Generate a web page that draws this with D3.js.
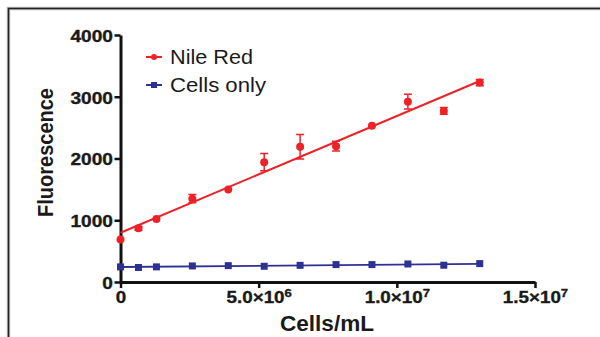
<!DOCTYPE html>
<html><head><meta charset="utf-8">
<script src="https://cdn.jsdelivr.net/npm/d3@7"></script>
<style>body{margin:0;background:#fff} svg{display:block} text{font-family:"Liberation Sans",Arial,sans-serif}</style>
</head><body><svg id="c" width="600" height="337"></svg>
<script>
const cellDensity = [0, 0.65e6, 1.3e6, 2.6e6, 3.9e6, 5.2e6, 6.5e6, 7.8e6, 9.1e6, 10.4e6, 11.7e6, 13.0e6];
const nileRed = [690, 870, 1020, 1350, 1500, 1940, 2190, 2200, 2530, 2920, 2770, 3230];
const nileRedErr = [0, 30, 0, 65, 0, 140, 200, 80, 0, 120, 55, 50];
const cellsOnly = [245, 235, 245, 260, 265, 255, 270, 282, 282, 292, 272, 298];
const fitX = [0, 13.0e6];
const nileRedFit = [798, 3255];
const cellsOnlyFit = [243, 295];
const yTicks = [0, 1000, 2000, 3000, 4000];
const xTicks = [0, 5e6, 1e7, 1.5e7];
const xTickMantissa = ["0", "5.0×10", "1.0×10", "1.5×10"];
const xTickExponent = ["", "6", "7", "7"];
const seriesNames = ["Nile Red", "Cells only"];
const seriesColors = ["#ee2127", "#2e3192"];

const svg = d3.select("#c");
const x = d3.scaleLinear().domain([0, 1.5e7]).range([120.5, 535]);
const y = d3.scaleLinear().domain([0, 4000]).range([282, 35]);

// frame
svg.append("path").attr("d", "M8.5,337 V8.5 H600").attr("fill", "none")
  .attr("stroke", "#bbb").attr("stroke-width", 3.5);
svg.append("path").attr("d", "M8.5,337 V8.5 H600").attr("fill", "none")
  .attr("stroke", "#222").attr("stroke-width", 1.5);

// axes
const yAxis = svg.append("g").attr("transform", "translate(120.5,0)")
  .call(d3.axisLeft(y).tickValues(yTicks).tickSize(6).tickSizeOuter(0).tickFormat(d3.format("d")));
const xAxis = svg.append("g").attr("transform", "translate(0,282)")
  .call(d3.axisBottom(x).tickValues(xTicks).tickSize(6).tickSizeOuter(0));
[yAxis, xAxis].forEach(a => {
  a.select(".domain").attr("stroke", "#111").attr("stroke-width", 3);
  a.selectAll(".tick line").attr("stroke", "#111").attr("stroke-width", 2.5);
});
yAxis.selectAll(".tick text")
  .attr("x", null).attr("dy", null)
  .attr("transform", "translate(-7.5,6.3) scale(1.16,1)")
  .attr("font-size", 16.5).attr("font-weight", "bold").attr("fill", "#1a1a1a")
  .attr("stroke", "#1a1a1a").attr("stroke-width", 0.35)
  .attr("text-anchor", "end");
xAxis.selectAll(".tick text").each(function(d, i) {
  const t = d3.select(this);
  t.text(null).attr("y", null).attr("dy", null)
    .attr("transform", "translate(0,21) scale(1.14,1)")
    .attr("font-size", 16.5).attr("font-weight", "bold").attr("fill", "#1a1a1a")
    .attr("stroke", "#1a1a1a").attr("stroke-width", 0.35)
    .attr("text-anchor", "middle");
  t.append("tspan").text(xTickMantissa[i]);
  if (xTickExponent[i]) t.append("tspan").attr("dy", "-0.5em").attr("font-size", 11.5).text(xTickExponent[i]);
});

// axis titles
svg.append("text").attr("transform", "translate(53,152.5) rotate(-90)")
  .attr("text-anchor", "middle").attr("font-size", 22).attr("font-weight", "bold")
  .attr("fill", "#1a1a1a").attr("textLength", 129).attr("lengthAdjust", "spacingAndGlyphs")
  .text("Fluorescence");
svg.append("text").attr("x", 327).attr("y", 331)
  .attr("text-anchor", "middle").attr("font-size", 22).attr("font-weight", "bold")
  .attr("fill", "#1a1a1a").attr("textLength", 94).attr("lengthAdjust", "spacingAndGlyphs")
  .text("Cells/mL");

// fit lines
const line = d3.line().x(d => x(d[0])).y(d => y(d[1]));
svg.append("path").datum(fitX.map((v, i) => [v, cellsOnlyFit[i]]))
  .attr("d", line).attr("fill", "none").attr("stroke", seriesColors[1]).attr("stroke-width", 1.8);
svg.append("path").datum(fitX.map((v, i) => [v, nileRedFit[i]]))
  .attr("d", line).attr("fill", "none").attr("stroke", seriesColors[0]).attr("stroke-width", 2);

// error bars
const eb = svg.append("g").attr("stroke", seriesColors[0]).attr("stroke-width", 1.5).attr("fill", "none");
cellDensity.forEach((v, i) => {
  if (!nileRedErr[i]) return;
  const cx = x(v), y1 = y(nileRed[i] + nileRedErr[i]), y2 = y(nileRed[i] - nileRedErr[i]);
  eb.append("path").attr("d", `M${cx},${y1}V${y2}M${cx-4},${y1}H${cx+4}M${cx-4},${y2}H${cx+4}`);
});

// markers
svg.append("g").selectAll("rect").data(cellDensity).join("rect")
  .attr("x", d => x(d) - 3.5).attr("y", (d, i) => y(cellsOnly[i]) - 3.5)
  .attr("width", 7).attr("height", 7).attr("fill", seriesColors[1]);
svg.append("g").selectAll("circle").data(cellDensity).join("circle")
  .attr("cx", d => x(d)).attr("cy", (d, i) => y(nileRed[i])).attr("r", 4)
  .attr("fill", seriesColors[0]);

// legend
const legY = [57, 85], legLen = [83, 96];
seriesNames.forEach((name, i) => {
  const g = svg.append("g");
  g.append("line").attr("x1", 146).attr("x2", 162).attr("y1", legY[i]).attr("y2", legY[i])
    .attr("stroke", seriesColors[i]).attr("stroke-width", 2);
  if (i === 0) g.append("circle").attr("cx", 154).attr("cy", legY[i]).attr("r", 3).attr("fill", seriesColors[i]);
  else g.append("rect").attr("x", 151).attr("y", legY[i] - 3).attr("width", 6).attr("height", 6).attr("fill", seriesColors[i]);
  g.append("text").attr("x", 170).attr("y", legY[i] + 7.3).attr("font-size", 20.5)
    .attr("fill", "#1a1a1a").attr("textLength", legLen[i]).attr("lengthAdjust", "spacingAndGlyphs")
    .text(name);
});
</script></body></html>
